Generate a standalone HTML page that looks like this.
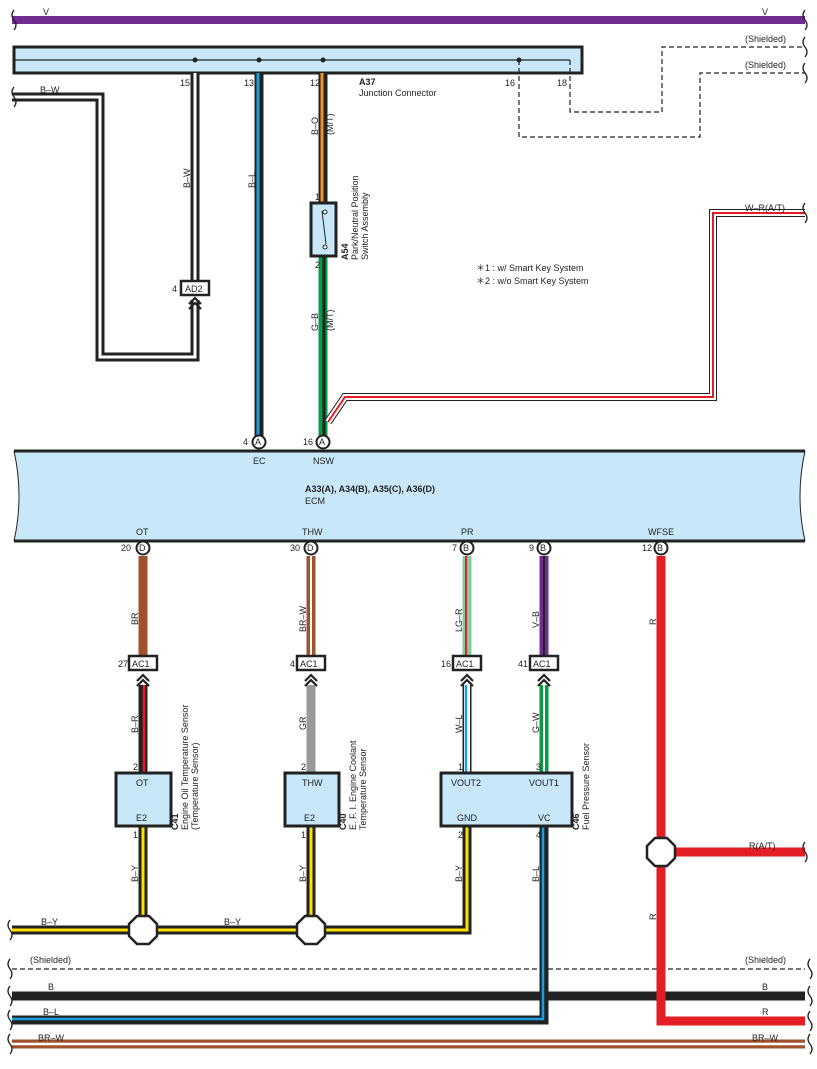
<!DOCTYPE html>
<html><head><meta charset="utf-8"><style>
html,body{margin:0;padding:0;background:#fff;}
svg{display:block;font-family:"Liberation Sans",Arial,sans-serif;}
text{font-size:9px;fill:#222;}
</style></head><body>
<svg width="817" height="1069" viewBox="0 0 817 1069" xmlns="http://www.w3.org/2000/svg">
<defs>
<g id="chev"><path d="M-6,6 L0,0 L6,6 M-6,11 L0,5 L6,11" fill="none" stroke="#222" stroke-width="2.2"/></g>
</defs>
<g fill="none" stroke-linejoin="miter" stroke-linecap="butt">
<!-- V -->
<line x1="12" y1="20" x2="805" y2="20" stroke="#6f2c91" stroke-width="8"/>
<!-- Junction bar -->
<rect x="14" y="47" width="568" height="26" fill="#c8e8f9" stroke="#222" stroke-width="3"/>
<path d="M14,60 L570,60" stroke="#222" stroke-width="1.2"/>
<!-- shielded dashes -->
<g stroke="#222" stroke-width="1.2" stroke-dasharray="5,3">
<path d="M570,60 V112 H662 V47 H805"/>
<path d="M519,60 V137 H700 V73 H805"/>
<line x1="12" y1="969" x2="805" y2="969"/>
</g>
<!-- B-W loop -->
<path d="M12,97 H100 V357 H195 V300" stroke="#222" stroke-width="9"/>
<path d="M12,97 H100 V357 H195 V300" stroke="#fff" stroke-width="3"/>
<path d="M195,73 V281" stroke="#222" stroke-width="9"/>
<path d="M195,73 V281" stroke="#fff" stroke-width="3"/>
<!-- B-L -->
<path d="M259,73 V436" stroke="#222" stroke-width="9"/>
<path d="M258,73 V436" stroke="#1aa0e0" stroke-width="3"/>
<!-- B-O -->
<path d="M323,73 V203" stroke="#222" stroke-width="9"/>
<path d="M322,73 V203" stroke="#f39325" stroke-width="3"/>
<!-- G-B -->
<path d="M323,256 V436" stroke="#0a9a48" stroke-width="9"/>
<path d="M324,256 V436" stroke="#222" stroke-width="3"/>
<!-- W-R -->
<path d="M805,213 H713 V397 H345 L328,422" stroke="#222" stroke-width="8"/>
<path d="M805,213 H713 V397 H345 L328,422" stroke="#fff" stroke-width="6"/>
<path d="M805,213 H713 V397 H345 L328,422" stroke="#e31e24" stroke-width="2"/>
<!-- A54 box -->
<rect x="311" y="203" width="25" height="53" fill="#c8e8f9" stroke="#222" stroke-width="3"/>
<path d="M322,211 L326,244" stroke="#222" stroke-width="1"/>
<circle cx="325" cy="212" r="2" fill="#fff" stroke="#222"/>
<circle cx="325" cy="247" r="2" fill="#fff" stroke="#222"/>
<!-- AD2 -->
<rect x="181" y="281" width="28" height="14" fill="#fff" stroke="#222" stroke-width="2.5"/>
<use href="#chev" x="195" y="298"/>
<!-- ECM -->
<path d="M14,451 H805 Q795,496 805,541 H14 Q24,496 14,451 Z" fill="#c8e8f9"/>
<line x1="14" y1="451" x2="805" y2="451" stroke="#222" stroke-width="3"/>
<line x1="14" y1="541" x2="805" y2="541" stroke="#222" stroke-width="3"/>
<path d="M14,451 Q24,496 14,541 M805,451 Q795,496 805,541" stroke="#222" stroke-width="1"/>
<!-- ECM lower wires -->
<path d="M143,556 V656" stroke="#a0522d" stroke-width="9"/>
<path d="M311,556 V656" stroke="#a0522d" stroke-width="9"/>
<path d="M311,556 V656" stroke="#fff" stroke-width="2"/>
<path d="M467,556 V656" stroke="#7fcf9e" stroke-width="9"/>
<path d="M466,556 V656" stroke="#e31e24" stroke-width="2"/>
<path d="M544,556 V656" stroke="#6f2c91" stroke-width="9"/>
<path d="M544,556 V656" stroke="#222" stroke-width="2"/>
<!-- R -->
<path d="M661,556 V1021 H805" stroke="#e31e24" stroke-width="9"/>
<path d="M661,852 H805" stroke="#e31e24" stroke-width="9"/>
<!-- AC1 boxes -->
<g fill="#fff" stroke="#222" stroke-width="2.5">
<rect x="129" y="656" width="28" height="14"/>
<rect x="297" y="656" width="28" height="14"/>
<rect x="453" y="656" width="28" height="14"/>
<rect x="530" y="656" width="28" height="14"/>
</g>
<!-- lower sensor wires -->
<path d="M143,685 V773" stroke="#222" stroke-width="9"/>
<path d="M144,685 V773" stroke="#e31e24" stroke-width="2.5"/>
<path d="M311,685 V773" stroke="#999" stroke-width="9"/>
<path d="M467,685 V773" stroke="#222" stroke-width="9"/>
<path d="M467,685 V773" stroke="#fff" stroke-width="6"/>
<path d="M466,685 V773" stroke="#1aa0e0" stroke-width="2.5"/>
<path d="M544,685 V773" stroke="#0a9a48" stroke-width="9"/>
<path d="M544,685 V773" stroke="#fff" stroke-width="2"/>
<use href="#chev" x="143" y="675"/>
<use href="#chev" x="311" y="675"/>
<use href="#chev" x="467" y="675"/>
<use href="#chev" x="544" y="675"/>
<!-- B-Y -->
<path d="M12,930 H467 V826" stroke="#222" stroke-width="9"/>
<path d="M12,930 H467 V826" stroke="#ffe100" stroke-width="3"/>
<path d="M143,826 V930 M311,826 V930" stroke="#222" stroke-width="9"/>
<path d="M143,826 V930 M311,826 V930" stroke="#ffe100" stroke-width="3"/>
<!-- B -->
<line x1="12" y1="996" x2="805" y2="996" stroke="#222" stroke-width="9"/>
<!-- B-L bottom -->
<path d="M544,826 V1020 H12" stroke="#222" stroke-width="9"/>
<path d="M543,826 V1019 H12" stroke="#1aa0e0" stroke-width="2.5"/>
<!-- R vertical over B -->
<path d="M661,980 V1021" stroke="#e31e24" stroke-width="9"/>
<!-- BR-W bottom -->
<line x1="12" y1="1044" x2="805" y2="1044" stroke="#a0522d" stroke-width="9"/>
<line x1="12" y1="1044" x2="805" y2="1044" stroke="#fff" stroke-width="2.5"/>
<!-- sensor boxes -->
<g fill="#c8e8f9" stroke="#222" stroke-width="3">
<rect x="116" y="773" width="55" height="53"/>
<rect x="285" y="773" width="54" height="53"/>
<rect x="441" y="773" width="131" height="53"/>
</g>
<!-- splices -->
<g fill="#fff" stroke="#222" stroke-width="2.5">
<polygon points="137,916 149,916 157,924 157,936 149,944 137,944 129,936 129,924"/>
<polygon points="305,916 317,916 325,924 325,936 317,944 305,944 297,936 297,924"/>
<polygon points="655,838 667,838 675,846 675,858 667,866 655,866 647,858 647,846"/>
</g>
<!-- pin circles -->
<g fill="#fff" stroke="#222" stroke-width="2">
<circle cx="259" cy="442" r="6.5"/><circle cx="323" cy="442" r="6.5"/>
<circle cx="143" cy="548" r="6.5"/><circle cx="311" cy="548" r="6.5"/>
<circle cx="467" cy="548" r="6.5"/><circle cx="544" cy="548" r="6.5"/><circle cx="661" cy="548" r="6.5"/>
</g>
<!-- dots -->
<g fill="#222"><circle cx="195" cy="60" r="2.5"/><circle cx="259" cy="60" r="2.5"/><circle cx="323" cy="60" r="2.5"/><circle cx="519" cy="60" r="2.5"/></g>
<!-- break squiggles -->
<g stroke="#222" stroke-width="1.3">
<path d="M14,10 q-4,5 0,10 q4,5 0,10"/><path d="M805,10 q-4,5 0,10 q4,5 0,10"/>
<path d="M14,87 q-4,5 0,10 q4,5 0,10"/>
<path d="M805,37 q-4,5 0,10 q4,5 0,10"/><path d="M805,63 q-4,5 0,10 q4,5 0,10"/>
<path d="M805,203 q-4,5 0,10 q4,5 0,10"/>
<path d="M805,842 q-4,5 0,10 q4,5 0,10"/>
<path d="M10,920 q-4,5 0,10 q4,5 0,10"/>
<path d="M10,959 q-4,5 0,10 q4,5 0,10"/><path d="M810,959 q-4,5 0,10 q4,5 0,10"/>
<path d="M10,986 q-4,5 0,10 q4,5 0,10"/><path d="M810,986 q-4,5 0,10 q4,5 0,10"/>
<path d="M10,1010 q-4,5 0,10 q4,5 0,10"/><path d="M810,1011 q-4,5 0,10 q4,5 0,10"/>
<path d="M10,1034 q-4,5 0,10 q4,5 0,10"/><path d="M810,1034 q-4,5 0,10 q4,5 0,10"/>
</g>
</g>
<!-- text -->
<g>
<text x="43" y="15">V</text><text x="762" y="15">V</text>
<text x="745" y="42">(Shielded)</text><text x="745" y="68">(Shielded)</text>
<text x="40" y="93">B–W</text>
<text x="180" y="86">15</text><text x="244" y="86">13</text><text x="310" y="86">12</text>
<text x="505" y="86">16</text><text x="557" y="86">18</text>
<text x="359" y="85" font-weight="bold">A37</text><text x="359" y="96">Junction Connector</text>
<text x="745" y="211">W–R(A/T)</text>
<text x="315" y="200">1</text><text x="315" y="268">2</text>
<text x="172" y="292">4</text><text x="185" y="292">AD2</text>
<text x="476" y="271">＊1 : w/ Smart Key System</text>
<text x="476" y="284">＊2 : w/o Smart Key System</text>
<text x="243" y="445">4</text><text x="303" y="445">16</text>
<text x="255" y="445" font-size="8">A</text><text x="319" y="445" font-size="8">A</text>
<text x="253" y="464">EC</text><text x="313" y="464">NSW</text>
<text x="305" y="492" font-weight="bold">A33(A), A34(B), A35(C), A36(D)</text>
<text x="305" y="504">ECM</text>
<text x="136" y="535">OT</text><text x="302" y="535">THW</text><text x="461" y="535">PR</text><text x="648" y="535">WFSE</text>
<text x="121" y="551">20</text><text x="290" y="551">30</text><text x="452" y="551">7</text><text x="529" y="551">9</text><text x="642" y="551">12</text>
<g font-size="8"><text x="139" y="551">D</text><text x="307" y="551">D</text><text x="463" y="551">B</text><text x="540" y="551">B</text><text x="657" y="551">B</text></g>
<text x="118" y="667">27</text><text x="132" y="667">AC1</text>
<text x="290" y="667">4</text><text x="300" y="667">AC1</text>
<text x="441" y="667">16</text><text x="456" y="667">AC1</text>
<text x="518" y="667">41</text><text x="533" y="667">AC1</text>
<text x="133" y="770">2</text><text x="301" y="770">2</text><text x="458" y="770">1</text><text x="536" y="770">3</text>
<text x="136" y="786">OT</text><text x="302" y="786">THW</text><text x="451" y="786">VOUT2</text><text x="529" y="786">VOUT1</text>
<text x="136" y="821">E2</text><text x="304" y="821">E2</text><text x="457" y="821">GND</text><text x="538" y="821">VC</text>
<text x="133" y="838">1</text><text x="301" y="838">1</text><text x="458" y="838">2</text><text x="536" y="838">4</text>
<text x="41" y="925">B–Y</text><text x="224" y="925">B–Y</text>
<text x="749" y="849">R(A/T)</text>
<text x="30" y="963">(Shielded)</text><text x="745" y="963">(Shielded)</text>
<text x="48" y="990">B</text><text x="762" y="990">B</text>
<text x="43" y="1015">B–L</text><text x="762" y="1015">R</text>
<text x="38" y="1041">BR–W</text><text x="752" y="1041">BR–W</text>
<!-- rotated -->
<text transform="translate(190,188) rotate(-90)">B–W</text>
<text transform="translate(255,188) rotate(-90)">B–L</text>
<text transform="translate(318,135) rotate(-90)">B–O</text>
<text transform="translate(333,135) rotate(-90)">(M/T)</text>
<text transform="translate(318,331) rotate(-90)">G–B</text>
<text transform="translate(333,331) rotate(-90)">(M/T)</text>
<text transform="translate(348,260) rotate(-90)" font-weight="bold">A54</text>
<text transform="translate(358,260) rotate(-90)">Park/Neutral Position</text>
<text transform="translate(368,260) rotate(-90)">Switch Assembly</text>
<text transform="translate(138,625) rotate(-90)">BR</text>
<text transform="translate(306,632) rotate(-90)">BR–W</text>
<text transform="translate(462,632) rotate(-90)">LG–R</text>
<text transform="translate(539,628) rotate(-90)">V–B</text>
<text transform="translate(656,625) rotate(-90)">R</text>
<text transform="translate(138,733) rotate(-90)">B–R</text>
<text transform="translate(306,730) rotate(-90)">GR</text>
<text transform="translate(462,733) rotate(-90)">W–L</text>
<text transform="translate(539,733) rotate(-90)">G–W</text>
<text transform="translate(178,830) rotate(-90)" font-weight="bold">C41</text>
<text transform="translate(188,830) rotate(-90)">Engine Oil Temperature Sensor</text>
<text transform="translate(198,830) rotate(-90)">(Temperature Sensor)</text>
<text transform="translate(346,830) rotate(-90)" font-weight="bold">C40</text>
<text transform="translate(356,830) rotate(-90)">E. F. I.  Engine Coolant</text>
<text transform="translate(366,830) rotate(-90)">Temperature Sensor</text>
<text transform="translate(579,830) rotate(-90)" font-weight="bold">C46</text>
<text transform="translate(589,830) rotate(-90)">Fuel Pressure Sensor</text>
<text transform="translate(138,882) rotate(-90)">B–Y</text>
<text transform="translate(306,882) rotate(-90)">B–Y</text>
<text transform="translate(462,882) rotate(-90)">B–Y</text>
<text transform="translate(539,882) rotate(-90)">B–L</text>
<text transform="translate(656,920) rotate(-90)">R</text>
</g>
</svg>
</body></html>
